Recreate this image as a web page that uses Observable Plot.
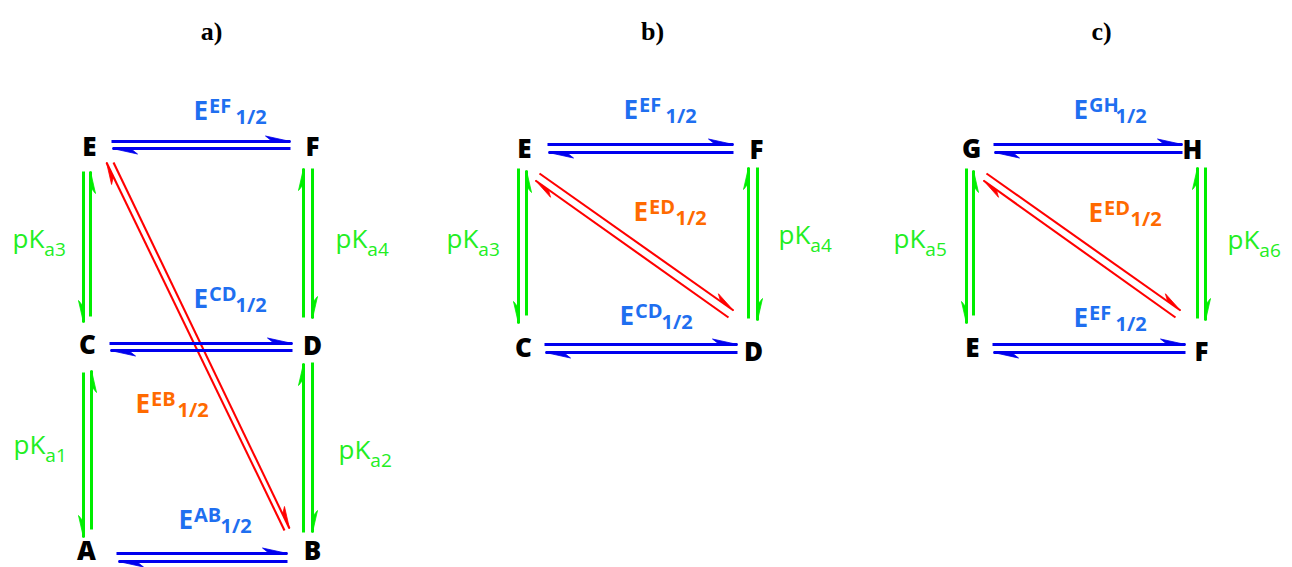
<!DOCTYPE html>
<html><head><meta charset="utf-8">
<script src="https://cdn.jsdelivr.net/npm/d3@7"></script>
<script src="https://cdn.jsdelivr.net/npm/@observablehq/plot@0.6"></script>
<style>html,body{margin:0;padding:0;background:#fff;overflow:hidden}</style>
</head><body><div id="chart"></div>
<script>
// ---- data ----
const panelTitles = ["a)", "b)", "c)"];
const panelTitleX = [211, 652, 1101];
const panelTitleY = [39, 39, 39];

const nodeNames = ["E","F","C","D","A","B", "E","F","C","D", "G","H","E","F"];
const nodeX = [89,312,87,312,86,312, 524,756,523,753, 971,1192,972,1201];
const nodeY = [147,147,345,346,551,551, 149,150,348,352, 149,150,348,352];

// [x1, y1, x2, y2, barb side] tail -> tip
const blueArrows = [
  [111,141,290,141,1],[290,148,112,148,1],
  [109,343,292,343,1],[292,350,110,350,1],
  [116,553,287,553,1],[287,561,118,561,1],
  [547,144,733,144,1],[733,152,548,152,1],
  [544,344,737,344,1],[737,352,545,352,1],
  [993,144,1182,144,1],[1182,152,994,152,1],
  [992,344,1185,344,1],[1185,352,993,352,1]
];
const greenArrows = [
  [83,171,83,322,-1],[90,316,90,171,-1],
  [83,372,83,537,-1],[91,529,91,370,-1],
  [303,317,303,168,1],[312,168,312,318,1],
  [303,532,303,363,1],[312,362,312,532,1],
  [518,168,518,323,-1],[526,315,526,170,-1],
  [748,318,748,167,1],[757,167,757,320,1],
  [966,168,966,323,-1],[973,315,973,170,-1],
  [1197,318,1197,167,1],[1205,167,1205,320,1]
];
const redArrows = [
  [284,530,106,162,1],[113,162,289,528,1],
  [539,173,733,310,1],[728,317,535,180,1],
  [986,173,1180,310,1],[1175,317,983,180,1]
];

const eLabelSup = ["EF","CD","EB","AB","EF","ED","CD","GH","ED","EF"];
const eLabelX = [193,193,135,178,623,633,619,1073,1088,1073];
const eLabelY = [119,307,412,528,118,220,324,118,221,326];
const eLabelKind = ["blue","blue","orange","blue","blue","orange","blue","blue","orange","blue"];

const pkSub = ["a3","a4","a1","a2","a3","a4","a5","a6"];
const pkX = [12,335,13,338,446,778,893,1227];
const pkY = [247,247,453,458,247,243,247,248];

// ---- styles ----
const COL = {blue:"#0000ee", green:"#00ee00", red:"#ff0000", labelBlue:"#1f6ff0", orange:"#ff6a00", pk:"#22ee22"};
const SANS = "'Open Sans', Lato, sans-serif";

const ctx = document.createElement("canvas").getContext("2d");
function tw(s, font){ ctx.font = font; return ctx.measureText(s).width; }

function harpoons(list, L, w, color) {
  const shafts = list.map(([x1,y1,x2,y2]) => ({x1,y1,x2,y2}));
  const barbs = [];
  list.forEach(([x1,y1,x2,y2,s], i) => {
    const len = Math.hypot(x2-x1, y2-y1), dx = (x2-x1)/len, dy = (y2-y1)/len;
    const nx = dy*s, ny = -dx*s;
    barbs.push({id:i, x:x2, y:y2});
    barbs.push({id:i, x:x2 - L*dx + w*nx, y:y2 - L*dy + w*ny});
    barbs.push({id:i, x:x2 - 0.72*L*dx, y:y2 - 0.72*L*dy});
  });
  return {shafts, barbs, color};
}

const blue = harpoons(blueArrows, 25, 5.5, COL.blue);
const green = harpoons(greenArrows, 22, 5, COL.green);
const red = harpoons(redArrows, 22, 5, COL.red);

function harpoonMarks(h, sw) {
  return [
    Plot.link(h.shafts, {x1:"x1", y1:"y1", x2:"x2", y2:"y2", stroke:h.color, strokeWidth:sw}),
    Plot.line(h.barbs, {x:"x", y:"y", z:"id", fill:h.color, stroke:h.color, strokeWidth:0.8, strokeLinejoin:"miter"})
  ];
}

const nodes = nodeNames.map((n,i)=>({n, x:nodeX[i], y:nodeY[i]}));
const titles = panelTitles.map((t,i)=>({t, x:panelTitleX[i], y:panelTitleY[i]}));
const eLabels = eLabelSup.map((s,i)=>({
  sup:s, x:eLabelX[i], y:eLabelY[i],
  color: eLabelKind[i]==="orange" ? COL.orange : COL.labelBlue
}));
const eMainW = tw("E", `bold 26px ${SANS}`);
const eSup = eLabels.map(d=>({t:d.sup, x:d.x + eMainW + 1, y:d.y - 7, color:d.color}));
const eSub = eLabels.map(d=>({t:"1/2", x:d.x + 42, y:d.y + 4, color:d.color}));

const pkMainW = tw("pK", `26px ${SANS}`);
const pks = pkSub.map((s,i)=>({s, x:pkX[i], y:pkY[i]}));

const chart = Plot.plot({
  width:1292, height:567, margin:0,
  x:{domain:[0,1292], range:[0,1292], axis:null},
  y:{domain:[0,567], range:[0,567], axis:null},
  style:{background:"#fff"},
  marks:[
    ...harpoonMarks(red, 2.1),
    ...harpoonMarks(green, 3),
    ...harpoonMarks(blue, 2.8),
    Plot.text(titles, {x:"x", y:"y", text:"t", fontSize:26, fontWeight:"bold", fontFamily:"'Liberation Serif', 'Times New Roman', serif", fill:"#000", lineAnchor:"bottom"}),
    Plot.text(nodes, {x:"x", y:"y", text:"n", fontSize:26, fontWeight:800, fontFamily:SANS, fill:"#000"}),
    Plot.text(eLabels, {x:"x", y:"y", text:()=>"E", fontSize:26, fontWeight:"bold", fontFamily:SANS, fill:"color", textAnchor:"start", lineAnchor:"bottom"}),
    Plot.text(eSup, {x:"x", y:"y", text:"t", fontSize:20, fontWeight:"bold", fontFamily:SANS, fill:"color", textAnchor:"start", lineAnchor:"bottom"}),
    Plot.text(eSub, {x:"x", y:"y", text:"t", fontSize:20, fontWeight:"bold", fontFamily:SANS, fill:"color", textAnchor:"start", lineAnchor:"bottom"}),
    Plot.text(pks, {x:"x", y:"y", text:()=>"pK", fontSize:26, fontFamily:SANS, fill:COL.pk, textAnchor:"start", lineAnchor:"bottom"}),
    Plot.text(pks, {x:d=>d.x + pkMainW, y:d=>d.y + 8, text:"s", fontSize:19, fontFamily:SANS, fill:COL.pk, textAnchor:"start", lineAnchor:"bottom"})
  ]
});
document.getElementById("chart").appendChild(chart);
</script>
</body></html>
